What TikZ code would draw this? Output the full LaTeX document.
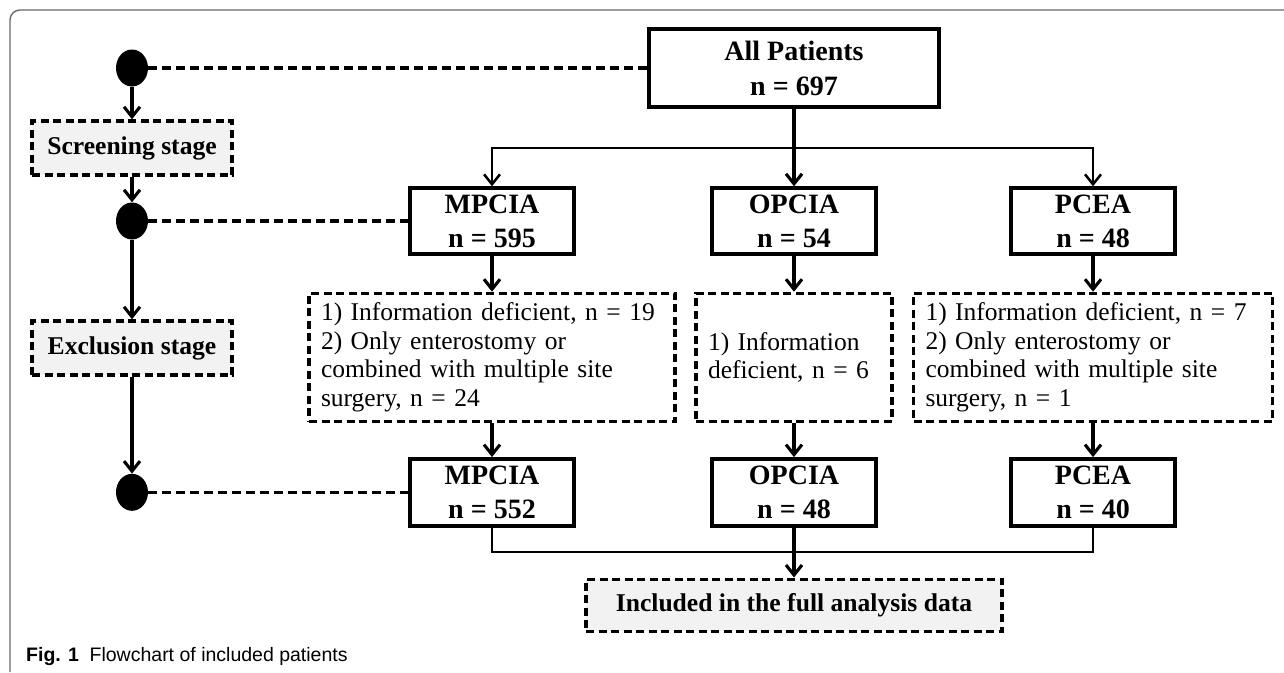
\documentclass[tikz,border=0pt]{standalone}
\usepackage{fontspec}
\setmainfont{Liberation Serif}
\setsansfont{Liberation Sans}
\usepackage{xcolor}
\usetikzlibrary{positioning, arrows.meta, shapes.geometric}

\definecolor{stagegray}{RGB}{242,242,242}
\definecolor{framegray}{RGB}{105,105,105}

\begin{document}
\begin{tikzpicture}[
    x=1pt, y=-1pt,
    % --- STYLES ---
    group_box/.style={draw, line width=3.4pt, minimum width=164pt, minimum height=66pt,
        align=center, inner sep=0pt, font=\fontsize{28}{34}\selectfont\bfseries},
    excl_box/.style={
        draw, line width=3.4pt,
        dash pattern=on 8pt off 4.5pt,
        minimum height=128pt,
        inner xsep=12pt,   % Text starts a little in from the dashed border
        inner ysep=0pt,
        align=left,
        font=\fontsize{25.5}{28.5}\selectfont
    },
    stage_box/.style={draw, fill=stagegray, line width=3.4pt, dash pattern=on 8pt off 4.5pt,
        minimum width=200pt, minimum height=54pt, inner sep=0pt,
        font=\fontsize{25.6}{30}\selectfont\bfseries},
    stage_dot/.style={ellipse, fill=black, minimum width=32pt, minimum height=37pt, inner sep=0pt},
    link_line/.style={line width=3.2pt, dash pattern=on 9pt off 5pt},
    arrow_style/.style={line width=3.1pt, -{Straight Barb[length=10pt, width=16pt]}},
    join_line/.style={line width=2.4pt}
]
\useasboundingbox (0,0) rectangle (1284,672);

% --- FRAME AND CAPTION ---
\draw[framegray, line width=1.4pt, rounded corners=10pt] (1284,10) -- (10,10) -- (10,672);
\node[anchor=base west, inner sep=0pt, font=\fontsize{19.5}{22}\selectfont\sffamily] (caption) at (26,661)
    {\textbf{Fig. 1}\hspace{0.55em}Flowchart of included patients};

% --- TOP BOX ---
\node[group_box, minimum width=290pt, minimum height=78pt, font=\fontsize{28}{35}\selectfont\bfseries]
    (all) at (794,68) {All Patients\\n = 697};

% --- FIRST ROW: groups ---
\node[group_box] (M1) at (492,221) {MPCIA\\n = 595};
\node[group_box] (O1) at (794,221) {OPCIA\\n = 54};
\node[group_box] (P1) at (1093,221) {PCEA\\n = 48};

% --- EXCLUSIONS ---
\node[excl_box, text width=342pt, below=36pt of M1] (M_ex) {%
    1) Information deficient, n = 19\\
    2) Only enterostomy or\\
    combined with multiple site\\
    surgery, n = 24};
\node[excl_box, text width=172pt, below=36pt of O1] (O_ex) {%
    1) Information\\
    deficient, n = 6};
\node[excl_box, text width=335pt, below=36pt of P1] (P_ex) {%
    1) Information deficient, n = 7\\
    2) Only enterostomy or\\
    combined with multiple site\\
    surgery, n = 1};

% --- SECOND ROW: groups after exclusion ---
\node[group_box, minimum height=67pt, below=34pt of M_ex] (M2) {MPCIA\\n = 552};
\node[group_box, minimum height=67pt, below=34pt of O_ex] (O2) {OPCIA\\n = 48};
\node[group_box, minimum height=67pt, below=34pt of P_ex] (P2) {PCEA\\n = 40};

% --- FINAL BOX ---
\node[stage_box, minimum width=416pt, minimum height=52pt, below=50pt of O2] (incl)
    {Included in the full analysis data};

% --- LEFT COLUMN: stages ---
\node[stage_box] (S1) at (132,148) {Screening stage};
\node[stage_box] (S2) at (132,348) {Exclusion stage};
\node[stage_dot] (D1) at (S1 |- all) {};
\node[stage_dot] (D2) at (S1 |- M1) {};
\node[stage_dot] (D3) at (S2 |- M2) {};

\draw[arrow_style] (D1) -- (S1);
\draw[arrow_style] (S1) -- (D2);
\draw[arrow_style] (D2) -- (S2);
\draw[arrow_style] (S2) -- (D3);

% --- STAGE LINKS ---
\draw[link_line] (D1) -- (all);
\draw[link_line] (D2) -- (M1);
\draw[link_line] (D3) -- (M2);

% --- ARROWS ---
\coordinate (split) at (794,148);
\coordinate (join) at (794,552);
\draw[line width=3.1pt] (all) -- (split);
\draw[arrow_style, line width=2.5pt] (split) -| (M1);
\draw[arrow_style] (split) -- (O1);
\draw[arrow_style, line width=2.5pt] (split) -| (P1);

\draw[arrow_style] (M1) -- (M_ex);
\draw[arrow_style] (O1) -- (O_ex);
\draw[arrow_style] (P1) -- (P_ex);

\draw[arrow_style] (M_ex) -- (M2);
\draw[arrow_style] (O_ex) -- (O2);
\draw[arrow_style] (P_ex) -- (P2);

\draw[join_line] (M2) |- (join) -| (P2);
\draw[arrow_style] (O2) -- (incl);

\end{tikzpicture}
\end{document}
